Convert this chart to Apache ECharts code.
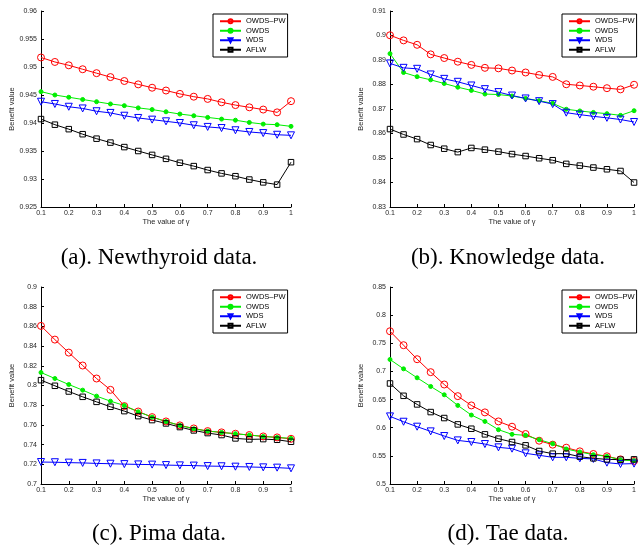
<!DOCTYPE html>
<html><head><meta charset="utf-8">
<script src="https://cdn.jsdelivr.net/npm/echarts@6/dist/echarts.min.js"></script>
<style>html,body{margin:0;padding:0;background:#fff}#c{width:639px;height:548px}</style>
</head><body><div id="c"></div>
<script>
// ---- data ----
const gammaValues = [0.1,0.15,0.2,0.25,0.3,0.35,0.4,0.45,0.5,0.55,0.6,0.65,0.7,0.75,0.8,0.85,0.9,0.95,1];
const xTicks = [0.1,0.2,0.3,0.4,0.5,0.6,0.7,0.8,0.9,1];
const methodNames = ['OWDS\u2013PW','OWDS','WDS','AFLW'];

const newthyroidOWDSPW = [0.9517,0.9509,0.9503,0.9496,0.9489,0.9482,0.9475,0.9469,0.9463,0.9458,0.9452,0.9447,0.9443,0.9437,0.9432,0.9428,0.9424,0.9419,0.9439];
const newthyroidOWDS   = [0.9456,0.9450,0.9446,0.9442,0.9438,0.9434,0.9431,0.9427,0.9424,0.9420,0.9416,0.9413,0.9410,0.9407,0.9405,0.9401,0.9398,0.9397,0.9394];
const newthyroidWDS    = [0.9438,0.9434,0.9429,0.9426,0.9421,0.9418,0.9413,0.9409,0.9406,0.9403,0.9400,0.9396,0.9393,0.9391,0.9387,0.9384,0.9382,0.9379,0.9378];
const newthyroidAFLW   = [0.9407,0.9397,0.9389,0.9380,0.9372,0.9365,0.9357,0.9350,0.9343,0.9336,0.9329,0.9323,0.9316,0.9310,0.9305,0.9299,0.9294,0.9290,0.9330];
const newthyroidYTicks = [0.925,0.93,0.935,0.94,0.945,0.95,0.955,0.96];

const knowledgeOWDSPW = [0.9001,0.8980,0.8962,0.8923,0.8908,0.8893,0.8880,0.8868,0.8866,0.8857,0.8849,0.8839,0.8831,0.8801,0.8796,0.8791,0.8785,0.8780,0.8799];
const knowledgeOWDS   = [0.8926,0.8849,0.8832,0.8819,0.8804,0.8789,0.8776,0.8761,0.8759,0.8753,0.8743,0.8734,0.8723,0.8699,0.8692,0.8686,0.8681,0.8674,0.8693];
const knowledgeWDS    = [0.8886,0.8868,0.8864,0.8841,0.8823,0.8811,0.8796,0.8781,0.8769,0.8755,0.8743,0.8732,0.8720,0.8685,0.8677,0.8670,0.8664,0.8657,0.8647];
const knowledgeAFLW   = [0.8618,0.8596,0.8577,0.8553,0.8538,0.8524,0.8541,0.8534,0.8526,0.8516,0.8508,0.8499,0.8491,0.8476,0.8469,0.8461,0.8454,0.8447,0.8400];
const knowledgeYTicks = [0.83,0.84,0.85,0.86,0.87,0.88,0.89,0.9,0.91];

const pimaOWDSPW = [0.8605,0.8466,0.8334,0.8203,0.8071,0.7956,0.7791,0.7736,0.7679,0.7635,0.7595,0.7564,0.7537,0.7524,0.7510,0.7497,0.7483,0.7473,0.7459];
const pimaOWDS   = [0.8132,0.8071,0.8010,0.7953,0.7892,0.7841,0.7797,0.7733,0.7679,0.7635,0.7595,0.7561,0.7537,0.7524,0.7510,0.7497,0.7483,0.7473,0.7463];
const pimaWDS    = [0.7223,0.7221,0.7217,0.7214,0.7209,0.7206,0.7202,0.7199,0.7197,0.7192,0.7189,0.7187,0.7182,0.7180,0.7176,0.7173,0.7169,0.7166,0.7159];
const pimaAFLW   = [0.8054,0.7997,0.7939,0.7885,0.7834,0.7784,0.7740,0.7689,0.7649,0.7615,0.7578,0.7544,0.7517,0.7497,0.7463,0.7453,0.7456,0.7449,0.7429];
const pimaYTicks = [0.7,0.72,0.74,0.76,0.78,0.8,0.82,0.84,0.86,0.88,0.9];

const taeOWDSPW = [0.7714,0.7466,0.7217,0.6987,0.6768,0.6561,0.6396,0.6272,0.6112,0.6018,0.5888,0.5769,0.5699,0.5645,0.5580,0.5533,0.5492,0.5438,0.5409];
const taeOWDS   = [0.7212,0.7046,0.6887,0.6733,0.6585,0.6396,0.6225,0.6112,0.5965,0.5882,0.5864,0.5787,0.5716,0.5622,0.5569,0.5521,0.5492,0.5427,0.5415];
const taeWDS    = [0.6201,0.6106,0.6018,0.5935,0.5852,0.5775,0.5746,0.5710,0.5651,0.5628,0.5545,0.5510,0.5474,0.5474,0.5456,0.5445,0.5379,0.5356,0.5362];
const taeAFLW   = [0.6786,0.6567,0.6414,0.6278,0.6172,0.6059,0.5982,0.5882,0.5805,0.5746,0.5687,0.5586,0.5539,0.5539,0.5486,0.5456,0.5438,0.5433,0.5438];
const taeYTicks = [0.5,0.55,0.6,0.65,0.7,0.75,0.8,0.85];

const captions = ['(a). Newthyroid data.','(b). Knowledge data.','(c). Pima data.','(d). Tae data.'];

// ---- layout / style ----
const panels = [
  {grid:{left:41,top:11,width:250,height:196}, yt:newthyroidYTicks, d:[newthyroidOWDSPW,newthyroidOWDS,newthyroidWDS,newthyroidAFLW], lg:{left:213,top:14}, cap:[159,258]},
  {grid:{left:390,top:11,width:249,height:196}, yt:knowledgeYTicks, d:[knowledgeOWDSPW,knowledgeOWDS,knowledgeWDS,knowledgeAFLW], lg:{left:562,top:14}, cap:[508,258]},
  {grid:{left:41,top:287,width:250,height:197}, yt:pimaYTicks, d:[pimaOWDSPW,pimaOWDS,pimaWDS,pimaAFLW], lg:{left:213,top:290}, cap:[159,534]},
  {grid:{left:390,top:287,width:249,height:197}, yt:taeYTicks, d:[taeOWDSPW,taeOWDS,taeWDS,taeAFLW], lg:{left:562,top:290}, cap:[508,534]}
];
const styles = [
  {color:'#ff0000', symbol:'circle', size:7, rot:0, fill:'rgba(0,0,0,0)'},
  {color:'#00ee00', symbol:'circle', size:4, rot:0, fill:'#00ee00'},
  {color:'#0000ff', symbol:'triangle', size:7, rot:180, fill:'rgba(0,0,0,0)'},
  {color:'#000000', symbol:'rect', size:5.5, rot:0, fill:'rgba(0,0,0,0)'}
];
const txt = '#262626';
const sans = 'Liberation Sans, Arial, sans-serif';

const option = {animation:false, backgroundColor:'#fff', grid:[], xAxis:[], yAxis:[], series:[], legend:[], graphic:[]};
panels.forEach((p,i)=>{
  option.grid.push(p.grid);
  option.xAxis.push({
    type:'value', gridIndex:i, min:xTicks[0], max:xTicks[xTicks.length-1], interval:0.1,
    name:'The value of \u03b3', nameLocation:'middle', nameGap:11,
    nameTextStyle:{fontFamily:sans, fontSize:7.5, color:txt, verticalAlign:'top'},
    axisLine:{lineStyle:{color:'#000', width:1}},
    axisTick:{inside:true, length:3, lineStyle:{color:'#000'}},
    axisLabel:{fontFamily:sans, fontSize:7, color:txt, margin:3, showMinLabel:true, showMaxLabel:true},
    splitLine:{show:false}
  });
  const yt = p.yt;
  option.yAxis.push({
    type:'value', gridIndex:i, min:yt[0], max:yt[yt.length-1],
    interval:+(yt[1]-yt[0]).toFixed(4),
    name:'Benefit value', nameLocation:'middle', nameGap:25,
    nameTextStyle:{fontFamily:sans, fontSize:7.5, color:txt},
    axisLine:{show:true, lineStyle:{color:'#000', width:1}},
    axisTick:{show:true, inside:true, length:3, lineStyle:{color:'#000'}},
    axisLabel:{fontFamily:sans, fontSize:7, color:txt, margin:4, showMinLabel:true, showMaxLabel:true},
    splitLine:{show:false}
  });
  p.d.forEach((vals,k)=>{
    const s = styles[k];
    option.series.push({
      type:'line', name:methodNames[k], xAxisIndex:i, yAxisIndex:i,
      data: gammaValues.map((g,j)=>[g, vals[j]]),
      symbol:s.symbol, symbolSize:s.size, symbolRotate:s.rot, showAllSymbol:true,
      clip:false,
      lineStyle:{color:s.color, width:1},
      itemStyle:{color:s.fill, borderColor:s.color, borderWidth:1},
      emphasis:{disabled:true}
    });
  });
  option.legend.push({
    left:p.lg.left, top:p.lg.top, orient:'vertical', data:methodNames,
    itemWidth:21, itemHeight:5, itemGap:1,
    textStyle:{fontFamily:sans, fontSize:7.5, color:'#000', lineHeight:8.5},
    backgroundColor:'#fff', borderColor:'#000', borderWidth:1, borderRadius:0,
    padding:[3,2,3,6], selectedMode:false
  });
  option.graphic.push({
    type:'text', x:p.cap[0], y:p.cap[1],
    style:{text:captions[i], fill:'#000', font:'23px "Liberation Serif", "Times New Roman", serif', align:'center', verticalAlign:'middle'}
  });
});

const chart = echarts.init(document.getElementById('c'), null, {renderer:'canvas'});
chart.setOption(option);
</script>
</body></html>
